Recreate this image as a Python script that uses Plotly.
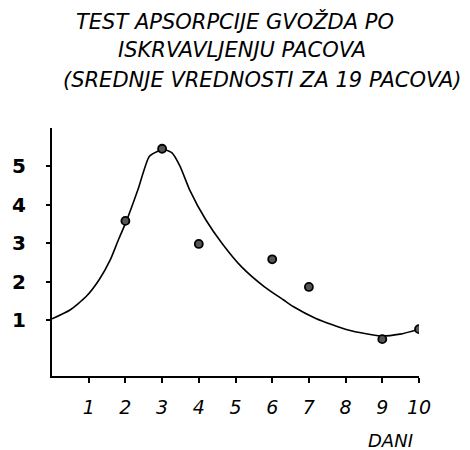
import plotly.graph_objects as go

# Mean iron absorption per day after bleeding (19 rats)
days = [2, 3, 4, 6, 7, 9, 10]
absorption = [3.58, 5.46, 2.98, 2.58, 1.86, 0.50, 0.76]

# Hand-fitted trend curve through the means
curve_days = [0.0, 0.49, 0.93, 1.28, 1.59, 1.81, 2.03, 2.34, 2.65, 2.87, 3.05,
              3.27, 3.49, 3.75, 4.19, 4.63, 5.16, 5.78, 6.31, 6.57, 7.19, 8.07,
              8.96, 9.48, 10.0]
curve_vals = [1.03, 1.26, 1.61, 2.04, 2.57, 3.09, 3.58, 4.39, 5.26, 5.39, 5.44,
              5.35, 5.00, 4.39, 3.61, 3.00, 2.39, 1.87, 1.52, 1.35, 1.04, 0.74,
              0.58, 0.63, 0.76]

x_ticks = [1, 2, 3, 4, 5, 6, 7, 8, 9, 10]
y_ticks = [1, 2, 3, 4, 5]

title_lines = [
    "TEST APSORPCIJE GVOŽDA PO",
    "ISKRVAVLJENJU PACOVA",
    "(SREDNJE VREDNOSTI ZA 19 PACOVA)",
]
title_pos = [(230, 21), (237, 50), (258, 80)]
title_sizes = [21, 21, 21]

hand_font = "DejaVu Sans"

fig = go.Figure()
fig.add_trace(go.Scatter(
    x=curve_days, y=curve_vals, mode="lines",
    line=dict(color="black", width=1.6, shape="spline", smoothing=0.6),
    hoverinfo="skip", showlegend=False,
))
fig.add_trace(go.Scatter(
    x=days, y=absorption, mode="markers",
    marker=dict(size=8, color="#555555", line=dict(color="black", width=1.8)),
    showlegend=False,
))

for text, (px, py), fs in zip(title_lines, title_pos, title_sizes):
    fig.add_annotation(
        text=text, xref="paper", yref="paper", showarrow=False,
        x=(px - 42) / 377, y=1 - (py - 128) / 248,
        xanchor="center", yanchor="middle",
        font=dict(family=hand_font, size=fs, color="black", style="italic"),
    )

fig.add_annotation(
    text="DANI", xref="paper", yref="paper", showarrow=False,
    x=(390 - 42) / 377, y=1 - (440 - 128) / 248,
    xanchor="center", yanchor="middle",
    font=dict(family=hand_font, size=18, color="black", style="italic"),
)

fig.update_xaxes(
    range=[0, 10], tickvals=x_ticks, ticktext=[str(v) for v in x_ticks],
    showline=True, linecolor="black", linewidth=2,
    ticks="outside", ticklen=5, tickwidth=1.5, tickcolor="black",
    ticklabelstandoff=8,
    showgrid=False, zeroline=False,
    tickfont=dict(family=hand_font, size=19, color="black", style="italic"),
)
fig.update_yaxes(
    range=[-0.46, 6.0], tickvals=y_ticks, ticktext=[str(v) for v in y_ticks],
    showline=True, linecolor="black", linewidth=2,
    ticks="outside", ticklen=4, tickwidth=1.5, tickcolor="black",
    ticklabelstandoff=16,
    showgrid=False, zeroline=False,
    tickfont=dict(family=hand_font, size=20, color="black", weight="bold"),
)

fig.update_layout(
    width=470, height=450,
    margin=dict(l=42, r=51, t=128, b=74),
    paper_bgcolor="white", plot_bgcolor="white",
)

fig.write_html("out.html")
